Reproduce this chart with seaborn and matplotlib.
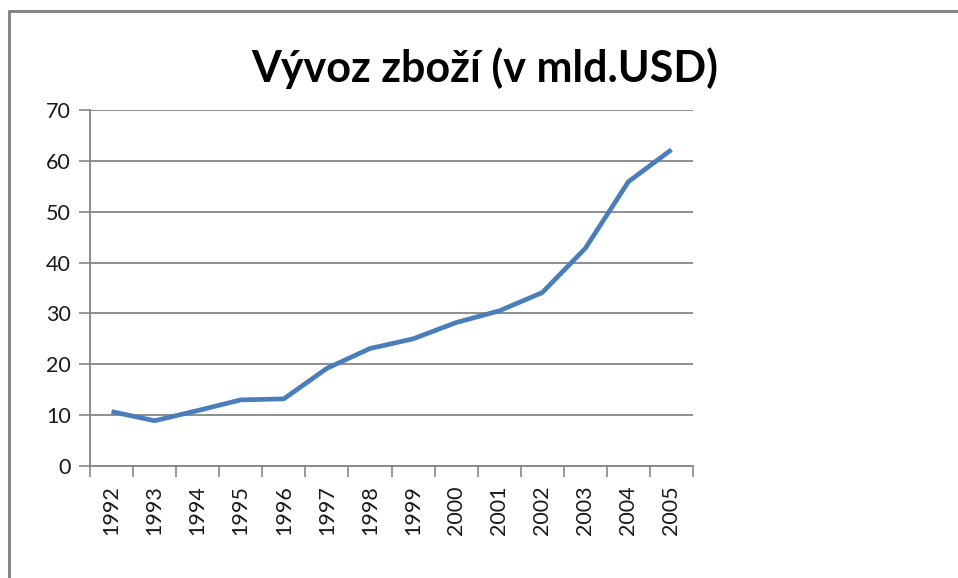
import matplotlib
matplotlib.use("Agg")
import matplotlib.pyplot as plt
import seaborn as sns
import numpy as np
import pandas as pd
from matplotlib.lines import Line2D

years = ["1992", "1993", "1994", "1995", "1996", "1997", "1998",
         "1999", "2000", "2001", "2002", "2003", "2004", "2005"]
export = [10.7, 8.9, 10.9, 13.0, 13.2, 19.2, 23.1,
          25.0, 28.2, 30.5, 34.1, 42.8, 55.9, 62.2]
title = "Vývoz zboží (v mld.USD)"
yticks = [0, 10, 20, 30, 40, 50, 60, 70]

sns.set_style("white")
plt.rcParams['font.family'] = ['Lato', 'DejaVu Sans']

df = pd.DataFrame({"year": years, "value": export})

fig = plt.figure(figsize=(9.58, 5.78), dpi=100)
ax = fig.add_axes([90/958, 1-466/578, (693-90)/958, (466-110)/578])

sns.lineplot(data=df, x="year", y="value", ax=ax, color="#4a7ebb",
             linewidth=3.4, solid_capstyle="butt", zorder=3)

grid_c = "#868686"
ax.set_ylim(0, 70)
ax.set_yticks(yticks)
ax.set_yticklabels([str(v) for v in yticks], fontsize=15.5, color="#1a1a1a")
n = len(years)
ax.set_xlim(-0.5, n - 0.5)
ax.set_xticks(np.arange(-0.5, n, 1.0))
ax.set_xticklabels([])
ax.set_xticks(np.arange(n), minor=True)
ax.set_xticklabels(years, minor=True, rotation=90, fontsize=15.5, color="#1a1a1a")
ax.tick_params(axis="x", which="major", length=8, width=1.2, color=grid_c, direction="out", bottom=True)
ax.tick_params(axis="x", which="minor", length=0, pad=14)
ax.tick_params(axis="y", length=8, width=1.2, color=grid_c, direction="out", left=True, pad=6)
ax.grid(axis="y", color=grid_c, linewidth=1.3)
ax.grid(axis="x", visible=False)
ax.set_axisbelow(True)
for s in ["top", "right"]:
    ax.spines[s].set_visible(False)
for s in ["left", "bottom"]:
    ax.spines[s].set_color(grid_c)
    ax.spines[s].set_linewidth(1.3)
ax.set_xlabel("")
ax.set_ylabel("")

fig.text(485/958, 1-68/578, title, ha="center", va="center", fontsize=31,
         fontweight="bold", color="#000000")

# outer frame (partially visible)
fig.add_artist(Line2D([9/958, 9/958], [0, 1-11/578], transform=fig.transFigure,
                      color="#868686", linewidth=2.2))
fig.add_artist(Line2D([9/958, 1.0], [1-11/578, 1-11/578], transform=fig.transFigure,
                      color="#868686", linewidth=2.2))

fig.savefig("out.png", dpi=100)
